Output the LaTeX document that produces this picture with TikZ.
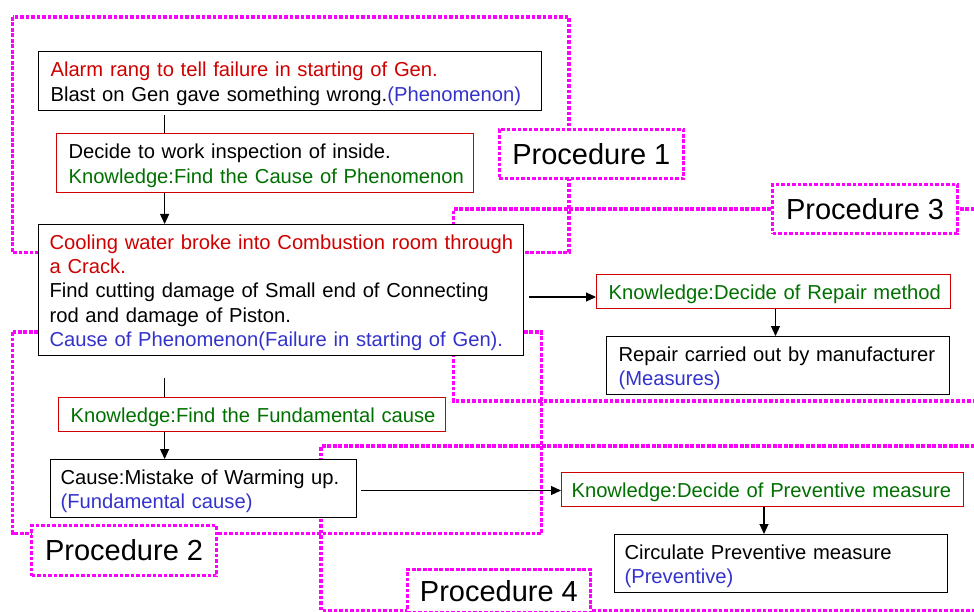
\documentclass[tikz,border=0pt]{standalone}
\usepackage{fontspec}
\setmainfont{Liberation Sans}
\usetikzlibrary{arrows.meta}
\definecolor{txtred}{RGB}{208,0,0}
\definecolor{txtgreen}{RGB}{0,112,0}
\definecolor{txtblue}{RGB}{51,51,204}
\definecolor{procmag}{RGB}{255,0,255}
\begin{document}
\begin{tikzpicture}[x=1pt,y=-1pt,
  box/.style={draw=black, fill=white, line width=1.1pt, anchor=north west,
    inner xsep=12pt, inner ysep=0pt, align=left, text height=20pt,
    font=\fontsize{20.2}{24.3}\selectfont},
  kbox/.style={box, draw=txtred},
  proc/.style={draw=procmag, line width=3.2pt, dash pattern=on 3.6pt off 1.9pt},
  plabel/.style={proc, fill=white, anchor=north west, inner sep=0pt,
    font=\fontsize{29}{34}\selectfont},
  arr/.style={line width=1.1pt, -{Triangle[length=10pt,width=9pt]}},
  lin/.style={line width=1.1pt}]
\useasboundingbox (0,0) rectangle (974,612);
\clip (0,0) rectangle (974,612);

% procedure regions
\draw[proc] (12.6,17) rectangle (569,252.7);
\draw[proc] (980,209) -- (453.6,209) -- (453.6,401) -- (980,401);
\draw[proc] (12.5,332) rectangle (541.5,533.5);
\draw[proc] (980,446) -- (321,446) -- (321,610.5) -- (980,610.5);

% procedure labels
\node[plabel, minimum width=184.5pt, minimum height=49pt] (P1) at (497.5,128) {Procedure 1};
\node[plabel, minimum width=185pt, minimum height=49pt] (P3) at (771,183) {Procedure 3};
\node[plabel, minimum width=185pt, minimum height=50pt] (P2) at (30,524) {Procedure 2};
\node[plabel, minimum width=183.4pt, minimum height=43pt] (P4) at (405.6,568) {Procedure 4};

% boxes
\node[box, text width=479pt, minimum height=59pt,
      font=\fontsize{20.2}{25.5}\selectfont] (A) at (38,51)
  {\mbox{\color{txtred}Alarm rang to tell failure in starting of Gen.}\\
   \mbox{Blast on Gen gave something wrong.{\color{txtblue}(Phenomenon)}}};
\node[kbox, text width=393pt, minimum height=59pt] (B) at (56,133)
  {\mbox{Decide to work inspection of inside.}\\
   \mbox{\color{txtgreen}Knowledge:Find the Cause of Phenomenon}};
\node[box, inner xsep=11pt, text width=463pt, minimum height=131pt] (C) at (38,224)
  {\mbox{\color{txtred}Cooling water broke into Combustion room through}\\
   \mbox{\color{txtred}a Crack.}\\
   \mbox{Find cutting damage of Small end of Connecting}\\
   \mbox{rod and damage of Piston.}\\
   \mbox{\color{txtblue}Cause of Phenomenon(Failure in starting of Gen).}};
\node[kbox, text width=363pt, minimum height=34pt] (D) at (58,397)
  {\mbox{\color{txtgreen}Knowledge:Find the Fundamental cause}};
\node[kbox, text width=330pt, minimum height=34pt] (E) at (596,274)
  {\mbox{\color{txtgreen}Knowledge:Decide of Repair method}};
\node[box, text width=319pt, minimum height=58pt] (F) at (606,336)
  {\mbox{Repair carried out by manufacturer}\\
   \mbox{\color{txtblue}(Measures)}};
\node[box, inner xsep=10pt, text width=286pt, minimum height=58pt] (G) at (50,459)
  {\mbox{Cause:Mistake of Warming up.}\\
   \mbox{\color{txtblue}(Fundamental cause)}};
\node[kbox, inner xsep=10pt, text width=382pt, minimum height=34pt] (H) at (561,472)
  {\mbox{\color{txtgreen}Knowledge:Decide of Preventive measure}};
\node[box, inner xsep=10pt, text width=313pt, minimum height=58pt] (I) at (614,534)
  {\mbox{Circulate Preventive measure}\\
   \mbox{\color{txtblue}(Preventive)}};

% helper coordinates
\coordinate (vx) at (164.6,0);
\coordinate (ex) at (775.5,0);
\coordinate (hx) at (764,0);
\coordinate (cy) at (0,297);
\coordinate (gy) at (0,490.5);
\coordinate (As) at ([yshift=-4pt]A.south);
\coordinate (Cs) at ([yshift=-22pt]C.south);
\coordinate (Ce) at ([xshift=5pt]C.east);
\coordinate (Ge) at ([xshift=4pt]G.east);

% connectors
\draw[lin] (As -| vx) -- (B.north -| vx);
\draw[arr] (B.south -| vx) -- (C.north -| vx);
\draw[lin] (Cs -| vx) -- (D.north -| vx);
\draw[arr] (D.south -| vx) -- (G.north -| vx);
\draw[arr] (Ce |- cy) -- (E.west |- cy);
\draw[arr] (E.south -| ex) -- (F.north -| ex);
\draw[arr] (Ge |- gy) -- (H.west |- gy);
\draw[arr] (H.south -| hx) -- (I.north -| hx);
\end{tikzpicture}
\end{document}
